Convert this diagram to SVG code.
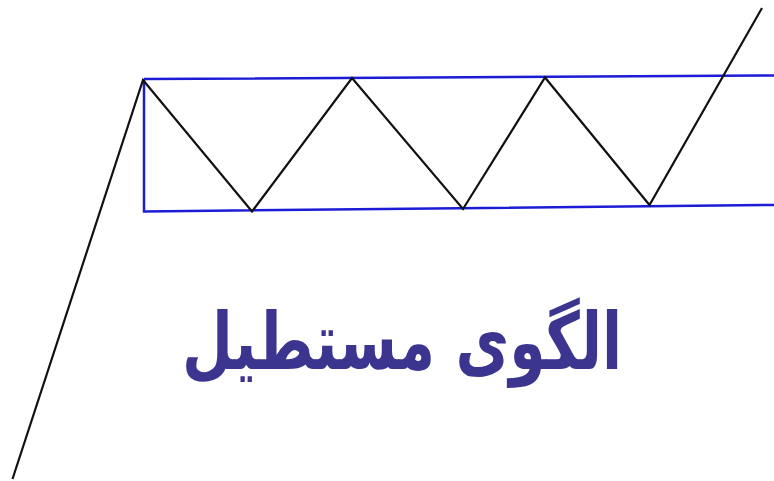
<svg xmlns="http://www.w3.org/2000/svg" width="774" height="481" viewBox="0 0 774 481">
<style>
.price{fill:none;stroke:#111;stroke-width:2.2;stroke-linejoin:miter}
.box{fill:none;stroke:#1c1cd6;stroke-width:2.5}
.title{font-family:"DejaVu Sans","Noto Sans",sans-serif;font-weight:bold;font-size:79px;fill:#3b3590}
</style>
<rect width="774" height="481" fill="#fff"/>
<g id="rectangle">
<path class="box" d="M144,79 L774,75.5 M144,79 L144,211.5 L774,205"/>
</g>
<g id="connectors">
<polyline class="price" points="12.5,479 143,80 252,211.5 352,78 463,209 545,77.5 649.5,205 762,8"/>
</g>
<g id="label">
<text class="title" x="402" y="369" text-anchor="middle" direction="rtl" textLength="440" lengthAdjust="spacingAndGlyphs">الگوی مستطیل</text>
</g>
</svg>
